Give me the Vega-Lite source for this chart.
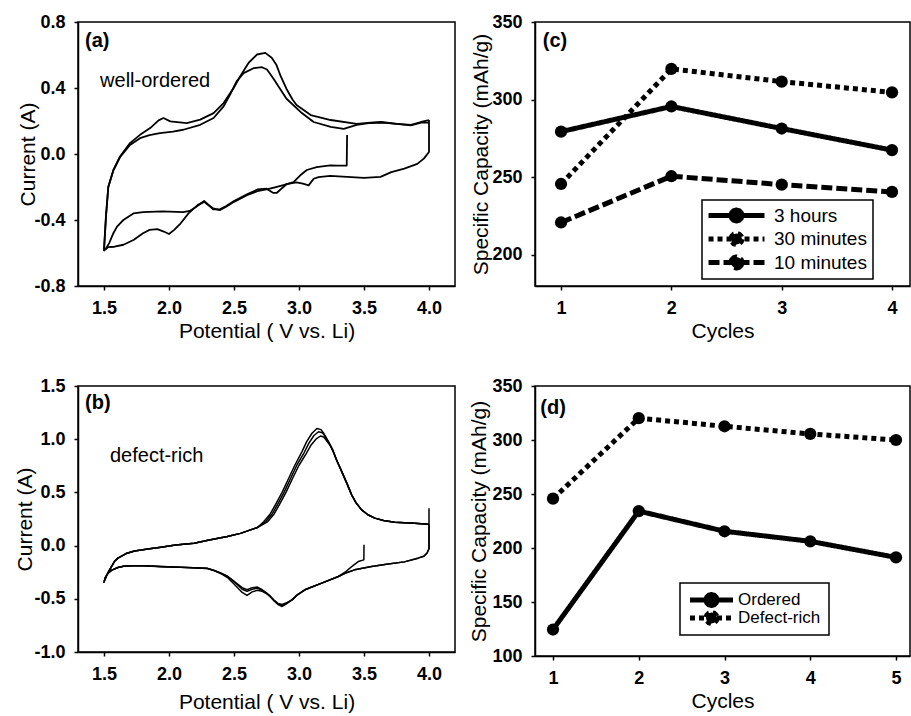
{
  "$schema": "https://vega.github.io/schema/vega-lite/v6.json",
  "padding": {"left": 14, "top": 12, "right": 0, "bottom": 0},
  "background": "white",
  "config": {
    "font": "Liberation Sans",
    "view": {"stroke": "black", "strokeWidth": 1.5},
    "axis": {"grid": false, "domainColor": "black", "domainWidth": 1.5, "tickColor": "black", "tickWidth": 1.5, "tickSize": 4,
      "labelColor": "black", "labelFont": "Liberation Sans", "labelFontSize": 18, "labelFontWeight": "bold", "labelPadding": 9,
      "labelFlush": false, "labelOverlap": false,
      "titleColor": "black", "titleFont": "Liberation Sans", "titleFontSize": 21, "titleFontWeight": "normal"},
    "axisX": {"titlePadding": 3},
    "axisY": {"titlePadding": -4}
  },
  "bounds": "flush",
  "columns": 2,
  "spacing": {"row": 100, "column": 80},
  "resolve": {"scale": {"strokeDash": "independent"}, "legend": {"strokeDash": "independent"}},
  "concat": [
        {
          "width": 377, "height": 264,
          "layer": [
            {
              "data": {"values": [
                {"c":1,"v":3.37,"a":0.115},{"c":1,"v":3.367,"a":-0.07},{"c":1,"v":3.30,"a":-0.07},{"c":1,"v":3.24,"a":-0.069},{"c":1,"v":3.136,"a":-0.08},{"c":1,"v":3.06,"a":-0.097},{"c":1,"v":3.01,"a":-0.129},{"c":1,"v":2.958,"a":-0.17},{"c":1,"v":2.88,"a":-0.188},{"c":1,"v":2.80,"a":-0.205},{"c":1,"v":2.75,"a":-0.215},{"c":1,"v":2.68,"a":-0.225},{"c":1,"v":2.60,"a":-0.25},{"c":1,"v":2.50,"a":-0.29},{"c":1,"v":2.44,"a":-0.32},{"c":1,"v":2.39,"a":-0.34},{"c":1,"v":2.34,"a":-0.33},{"c":1,"v":2.27,"a":-0.29},{"c":1,"v":2.22,"a":-0.31},{"c":1,"v":2.15,"a":-0.36},{"c":1,"v":2.09,"a":-0.42},{"c":1,"v":2.04,"a":-0.46},{"c":1,"v":2.00,"a":-0.485},{"c":1,"v":1.96,"a":-0.47},{"c":1,"v":1.91,"a":-0.455},{"c":1,"v":1.85,"a":-0.46},{"c":1,"v":1.80,"a":-0.48},{"c":1,"v":1.73,"a":-0.52},{"c":1,"v":1.65,"a":-0.55},{"c":1,"v":1.58,"a":-0.562},{"c":1,"v":1.53,"a":-0.565},{"c":1,"v":1.50,"a":-0.585},
                {"c":1,"v":1.515,"a":-0.38},{"c":1,"v":1.533,"a":-0.2},{"c":1,"v":1.572,"a":-0.097},{"c":1,"v":1.623,"a":-0.015},{"c":1,"v":1.70,"a":0.066},{"c":1,"v":1.777,"a":0.116},{"c":1,"v":1.855,"a":0.157},{"c":1,"v":1.92,"a":0.204},{"c":1,"v":1.957,"a":0.218},{"c":1,"v":2.01,"a":0.198},{"c":1,"v":2.137,"a":0.187},{"c":1,"v":2.24,"a":0.208},{"c":1,"v":2.343,"a":0.248},{"c":1,"v":2.42,"a":0.309},{"c":1,"v":2.497,"a":0.40},{"c":1,"v":2.548,"a":0.471},{"c":1,"v":2.613,"a":0.553},{"c":1,"v":2.677,"a":0.603},{"c":1,"v":2.741,"a":0.613},{"c":1,"v":2.79,"a":0.583},{"c":1,"v":2.827,"a":0.539},{"c":1,"v":2.86,"a":0.47},{"c":1,"v":2.904,"a":0.394},{"c":1,"v":2.95,"a":0.33},{"c":1,"v":2.981,"a":0.297},{"c":1,"v":3.09,"a":0.236},{"c":1,"v":3.244,"a":0.206},{"c":1,"v":3.444,"a":0.182},{"c":1,"v":3.55,"a":0.19},{"c":1,"v":3.63,"a":0.194},{"c":1,"v":3.753,"a":0.182},{"c":1,"v":3.861,"a":0.176},{"c":1,"v":3.938,"a":0.194},{"c":1,"v":4.0,"a":0.206},
                {"c":2,"v":4.0,"a":0.206},{"c":2,"v":4.0,"a":0.012},{"c":2,"v":3.96,"a":-0.028},{"c":2,"v":3.91,"a":-0.06},{"c":2,"v":3.81,"a":-0.089},{"c":2,"v":3.71,"a":-0.11},{"c":2,"v":3.627,"a":-0.139},{"c":2,"v":3.50,"a":-0.145},{"c":2,"v":3.37,"a":-0.139},{"c":2,"v":3.24,"a":-0.133},{"c":2,"v":3.15,"a":-0.14},{"c":2,"v":3.113,"a":-0.15},{"c":2,"v":3.074,"a":-0.19},{"c":2,"v":3.03,"a":-0.18},{"c":2,"v":2.98,"a":-0.172},{"c":2,"v":2.905,"a":-0.182},{"c":2,"v":2.83,"a":-0.235},{"c":2,"v":2.80,"a":-0.235},{"c":2,"v":2.75,"a":-0.21},{"c":2,"v":2.68,"a":-0.215},{"c":2,"v":2.60,"a":-0.245},{"c":2,"v":2.50,"a":-0.285},{"c":2,"v":2.44,"a":-0.315},{"c":2,"v":2.39,"a":-0.335},{"c":2,"v":2.34,"a":-0.335},{"c":2,"v":2.27,"a":-0.285},{"c":2,"v":2.21,"a":-0.32},{"c":2,"v":2.16,"a":-0.345},{"c":2,"v":2.11,"a":-0.352},{"c":2,"v":1.95,"a":-0.348},{"c":2,"v":1.80,"a":-0.352},{"c":2,"v":1.726,"a":-0.36},{"c":2,"v":1.649,"a":-0.40},{"c":2,"v":1.60,"a":-0.44},{"c":2,"v":1.572,"a":-0.48},{"c":2,"v":1.54,"a":-0.54},{"c":2,"v":1.515,"a":-0.573},{"c":2,"v":1.5,"a":-0.58},
                {"c":2,"v":1.515,"a":-0.38},{"c":2,"v":1.533,"a":-0.2},{"c":2,"v":1.572,"a":-0.1},{"c":2,"v":1.623,"a":-0.02},{"c":2,"v":1.70,"a":0.055},{"c":2,"v":1.777,"a":0.096},{"c":2,"v":1.85,"a":0.115},{"c":2,"v":1.93,"a":0.127},{"c":2,"v":2.03,"a":0.135},{"c":2,"v":2.11,"a":0.147},{"c":2,"v":2.24,"a":0.177},{"c":2,"v":2.343,"a":0.218},{"c":2,"v":2.42,"a":0.289},{"c":2,"v":2.47,"a":0.36},{"c":2,"v":2.52,"a":0.44},{"c":2,"v":2.574,"a":0.49},{"c":2,"v":2.65,"a":0.52},{"c":2,"v":2.715,"a":0.526},{"c":2,"v":2.754,"a":0.512},{"c":2,"v":2.804,"a":0.456},{"c":2,"v":2.85,"a":0.40},{"c":2,"v":2.904,"a":0.335},{"c":2,"v":3.012,"a":0.255},{"c":2,"v":3.113,"a":0.194},{"c":2,"v":3.244,"a":0.164},{"c":2,"v":3.344,"a":0.152},{"c":2,"v":3.444,"a":0.176},{"c":2,"v":3.55,"a":0.188},{"c":2,"v":3.65,"a":0.19},{"c":2,"v":3.75,"a":0.183},{"c":2,"v":3.86,"a":0.173},{"c":2,"v":3.94,"a":0.19},{"c":2,"v":4.0,"a":0.19}
              ]},
              "mark": {"type": "line", "color": "black", "strokeWidth": 1.8, "strokeJoin": "round"},
              "encoding": {
                "x": {"field": "v", "type": "quantitative", "scale": {"domain": [1.3, 4.2], "nice": false, "zero": false},
                  "axis": {"values": [1.5, 2, 2.5, 3, 3.5, 4], "format": ".1f", "title": "Potential ( V vs. Li)"}},
                "y": {"field": "a", "type": "quantitative", "scale": {"domain": [-0.8, 0.8], "nice": false, "zero": false},
                  "axis": {"values": [-0.8, -0.6, -0.4, -0.2, 0, 0.2, 0.4, 0.6, 0.8], "labelExpr": "replace(format(datum.value, '.1f'), '\u2212', '-')", "title": "Current (A)", "titlePadding": -5}},
                "detail": {"field": "c"},
                "order": {"value": null}
              }
            },
            {"data": {"values": [{}]}, "mark": {"type": "text", "text": "(a)", "fontSize": 20, "fontWeight": "bold", "align": "left", "baseline": "middle", "color": "black"},
             "encoding": {"x": {"datum": 1.354}, "y": {"datum": 0.682}}},
            {"data": {"values": [{}]}, "mark": {"type": "text", "text": "well-ordered", "fontSize": 20, "align": "left", "baseline": "alphabetic", "color": "black"},
             "encoding": {"x": {"datum": 1.47}, "y": {"datum": 0.406}}}
          ]
        },
        {
          "width": 375, "height": 264,
          "data": {"values": [
            {"s":"3 hours","cycle":1,"cap":279.4},{"s":"3 hours","cycle":2,"cap":295.6},{"s":"3 hours","cycle":3,"cap":281.4},{"s":"3 hours","cycle":4,"cap":267.5},
            {"s":"30 minutes","cycle":1,"cap":245.7},{"s":"30 minutes","cycle":2,"cap":319.8},{"s":"30 minutes","cycle":3,"cap":311.6},{"s":"30 minutes","cycle":4,"cap":304.7},
            {"s":"10 minutes","cycle":1,"cap":220.9},{"s":"10 minutes","cycle":2,"cap":250.7},{"s":"10 minutes","cycle":3,"cap":245.3},{"s":"10 minutes","cycle":4,"cap":240.6}
          ]},
          "layer": [
            {
              "mark": {"type": "line", "color": "black", "strokeWidth": 5},
              "encoding": {
                "x": {"field": "cycle", "type": "quantitative", "scale": {"domain": [0.764, 4.163], "nice": false, "zero": false},
                  "axis": {"values": [1, 2, 3, 4], "format": "d", "title": "Cycles"}},
                "y": {"field": "cap", "type": "quantitative", "scale": {"domain": [180, 350], "nice": false, "zero": false},
                  "axis": {"values": [200, 250, 300, 350], "format": "d", "title": "Specific Capacity (mAh/g)", "titlePadding": 0}},
                "strokeDash": {"field": "s", "type": "nominal",
                  "scale": {"domain": ["3 hours", "30 minutes", "10 minutes"], "range": [[1, 0], [5, 4], [11, 4]]},
                  "legend": {"orient": "none", "legendX": 167, "legendY": 178, "title": null, "strokeColor": "black", "padding": 6,
                    "symbolType": "M-1.38,0L7.23,0M3.77,0L3.656,0.425L3.345,0.736L2.92,0.85L2.495,0.736L2.184,0.425L2.07,0L2.184,-0.425L2.495,-0.736L2.92,-0.85L3.345,-0.736L3.656,-0.425Z", "symbolSize": 169,
                    "symbolStrokeWidth": 5, "symbolStrokeColor": "black", "symbolFillColor": "black",
                    "labelFont": "Liberation Sans", "labelFontSize": 19, "labelColor": "black", "labelOffset": 47, "rowPadding": 3.5,
                    "encode": {"symbols": {"update": {"fill": {"value": "black"}, "stroke": {"value": "black"}, "strokeJoin": {"value": "round"}}}, "legend": {"update": {"strokeWidth": {"value": 1.5}}}}}
                }
              }
            },
            {
              "mark": {"type": "point", "filled": true, "color": "black", "size": 150, "opacity": 1},
              "encoding": {"x": {"field": "cycle", "type": "quantitative"}, "y": {"field": "cap", "type": "quantitative"}}
            },
            {"data": {"values": [{}]}, "mark": {"type": "text", "text": "(c)", "fontSize": 20, "fontWeight": "bold", "align": "left", "baseline": "middle", "color": "black"},
             "encoding": {"x": {"datum": 0.835}, "y": {"datum": 337.8}}}
          ]
        },
        {
          "width": 377, "height": 266,
          "layer": [
            {
              "data": {"values": [
                {"c":1,"v":3.5,"a":0.007},{"c":1,"v":3.499,"a":-0.134},{"c":1,"v":3.456,"a":-0.15},{"c":1,"v":3.405,"a":-0.197},{"c":1,"v":3.354,"a":-0.25},{"c":1,"v":3.303,"a":-0.29},{"c":1,"v":3.175,"a":-0.353},{"c":1,"v":3.045,"a":-0.415},{"c":1,"v":2.99,"a":-0.46},{"c":1,"v":2.946,"a":-0.51},{"c":1,"v":2.90,"a":-0.55},{"c":1,"v":2.87,"a":-0.572},{"c":1,"v":2.84,"a":-0.555},{"c":1,"v":2.81,"a":-0.52},{"c":1,"v":2.78,"a":-0.48},{"c":1,"v":2.75,"a":-0.45},{"c":1,"v":2.717,"a":-0.43},{"c":1,"v":2.68,"a":-0.42},{"c":1,"v":2.64,"a":-0.435},{"c":1,"v":2.60,"a":-0.468},{"c":1,"v":2.563,"a":-0.44},{"c":1,"v":2.50,"a":-0.36},{"c":1,"v":2.45,"a":-0.3},{"c":1,"v":2.397,"a":-0.262},{"c":1,"v":2.35,"a":-0.237},{"c":1,"v":2.296,"a":-0.216},{"c":1,"v":2.143,"a":-0.207},{"c":1,"v":1.938,"a":-0.198},{"c":1,"v":1.80,"a":-0.19},{"c":1,"v":1.709,"a":-0.19},{"c":1,"v":1.65,"a":-0.195},{"c":1,"v":1.607,"a":-0.206},{"c":1,"v":1.56,"a":-0.23},{"c":1,"v":1.53,"a":-0.26},{"c":1,"v":1.51,"a":-0.3},{"c":1,"v":1.5,"a":-0.343},
                {"c":1,"v":1.52,"a":-0.28},{"c":1,"v":1.543,"a":-0.228},{"c":1,"v":1.58,"a":-0.15},{"c":1,"v":1.607,"a":-0.118},{"c":1,"v":1.67,"a":-0.075},{"c":1,"v":1.735,"a":-0.05},{"c":1,"v":1.85,"a":-0.03},{"c":1,"v":1.938,"a":-0.015},{"c":1,"v":2.05,"a":0.005},{"c":1,"v":2.194,"a":0.023},{"c":1,"v":2.3,"a":0.05},{"c":1,"v":2.449,"a":0.085},{"c":1,"v":2.55,"a":0.115},{"c":1,"v":2.627,"a":0.148},{"c":1,"v":2.68,"a":0.17},
                {"c":1,"v":2.73,"a":0.226},{"c":1,"v":2.78,"a":0.30},{"c":1,"v":2.818,"a":0.383},{"c":1,"v":2.87,"a":0.50},{"c":1,"v":2.921,"a":0.633},{"c":1,"v":2.97,"a":0.76},{"c":1,"v":3.023,"a":0.883},{"c":1,"v":3.06,"a":0.98},{"c":1,"v":3.10,"a":1.056},{"c":1,"v":3.138,"a":1.10},{"c":1,"v":3.17,"a":1.09},{"c":1,"v":3.189,"a":1.056},{"c":1,"v":3.22,"a":0.99},{"c":1,"v":3.252,"a":0.915},{"c":1,"v":3.29,"a":0.80},
                {"c":1,"v":3.329,"a":0.695},{"c":1,"v":3.37,"a":0.58},{"c":1,"v":3.405,"a":0.477},{"c":1,"v":3.44,"a":0.40},{"c":1,"v":3.482,"a":0.336},{"c":1,"v":3.53,"a":0.29},{"c":1,"v":3.583,"a":0.258},{"c":1,"v":3.65,"a":0.235},{"c":1,"v":3.736,"a":0.22},{"c":1,"v":3.89,"a":0.211},{"c":1,"v":3.992,"a":0.201},{"c":1,"v":4.0,"a":0.20},
                {"c":2,"v":4.0,"a":0.20},{"c":2,"v":4.0,"a":-0.03},{"c":2,"v":3.985,"a":-0.07},{"c":2,"v":3.96,"a":-0.1},{"c":2,"v":3.915,"a":-0.118},{"c":2,"v":3.81,"a":-0.153},{"c":2,"v":3.686,"a":-0.174},{"c":2,"v":3.558,"a":-0.197},{"c":2,"v":3.428,"a":-0.228},{"c":2,"v":3.354,"a":-0.26},{"c":2,"v":3.303,"a":-0.29},{"c":2,"v":3.175,"a":-0.353},{"c":2,"v":3.045,"a":-0.415},{"c":2,"v":2.99,"a":-0.46},{"c":2,"v":2.946,"a":-0.51},{"c":2,"v":2.90,"a":-0.545},{"c":2,"v":2.87,"a":-0.562},{"c":2,"v":2.84,"a":-0.55},{"c":2,"v":2.81,"a":-0.52},{"c":2,"v":2.78,"a":-0.48},{"c":2,"v":2.75,"a":-0.45},{"c":2,"v":2.717,"a":-0.42},{"c":2,"v":2.68,"a":-0.40},{"c":2,"v":2.64,"a":-0.41},{"c":2,"v":2.60,"a":-0.43},{"c":2,"v":2.563,"a":-0.41},{"c":2,"v":2.50,"a":-0.337},{"c":2,"v":2.45,"a":-0.29},{"c":2,"v":2.397,"a":-0.259},{"c":2,"v":2.35,"a":-0.235},{"c":2,"v":2.296,"a":-0.215},{"c":2,"v":2.143,"a":-0.206},{"c":2,"v":1.938,"a":-0.197},{"c":2,"v":1.80,"a":-0.19},{"c":2,"v":1.709,"a":-0.19},{"c":2,"v":1.65,"a":-0.195},{"c":2,"v":1.607,"a":-0.206},{"c":2,"v":1.56,"a":-0.23},{"c":2,"v":1.53,"a":-0.26},{"c":2,"v":1.51,"a":-0.3},{"c":2,"v":1.5,"a":-0.343},
                {"c":2,"v":1.52,"a":-0.28},{"c":2,"v":1.543,"a":-0.228},{"c":2,"v":1.58,"a":-0.15},{"c":2,"v":1.607,"a":-0.118},{"c":2,"v":1.67,"a":-0.075},{"c":2,"v":1.735,"a":-0.05},{"c":2,"v":1.85,"a":-0.03},{"c":2,"v":1.938,"a":-0.015},{"c":2,"v":2.05,"a":0.005},{"c":2,"v":2.194,"a":0.023},{"c":2,"v":2.3,"a":0.05},{"c":2,"v":2.449,"a":0.085},{"c":2,"v":2.55,"a":0.115},{"c":2,"v":2.627,"a":0.148},{"c":2,"v":2.68,"a":0.17},
                {"c":2,"v":2.745,"a":0.226},{"c":2,"v":2.795,"a":0.30},{"c":2,"v":2.833,"a":0.383},{"c":2,"v":2.885,"a":0.50},{"c":2,"v":2.936,"a":0.633},{"c":2,"v":2.985,"a":0.76},{"c":2,"v":3.038,"a":0.87},{"c":2,"v":3.075,"a":0.96},{"c":2,"v":3.115,"a":1.035},{"c":2,"v":3.15,"a":1.07},{"c":2,"v":3.18,"a":1.06},{"c":2,"v":3.20,"a":1.03},{"c":2,"v":3.23,"a":0.97},{"c":2,"v":3.26,"a":0.9},{"c":2,"v":3.29,"a":0.80},
                {"c":2,"v":3.329,"a":0.695},{"c":2,"v":3.37,"a":0.58},{"c":2,"v":3.405,"a":0.477},{"c":2,"v":3.44,"a":0.40},{"c":2,"v":3.482,"a":0.336},{"c":2,"v":3.53,"a":0.29},{"c":2,"v":3.583,"a":0.258},{"c":2,"v":3.65,"a":0.235},{"c":2,"v":3.736,"a":0.22},{"c":2,"v":3.89,"a":0.211},{"c":2,"v":3.992,"a":0.201},{"c":2,"v":4.0,"a":0.20},
                {"c":3,"v":4.0,"a":0.20},{"c":3,"v":4.0,"a":-0.03},{"c":3,"v":3.985,"a":-0.07},{"c":3,"v":3.96,"a":-0.1},{"c":3,"v":3.915,"a":-0.118},{"c":3,"v":3.81,"a":-0.153},{"c":3,"v":3.686,"a":-0.174},{"c":3,"v":3.558,"a":-0.197},{"c":3,"v":3.428,"a":-0.228},{"c":3,"v":3.354,"a":-0.26},{"c":3,"v":3.303,"a":-0.29},{"c":3,"v":3.175,"a":-0.353},{"c":3,"v":3.045,"a":-0.415},{"c":3,"v":2.99,"a":-0.46},{"c":3,"v":2.946,"a":-0.51},{"c":3,"v":2.90,"a":-0.54},{"c":3,"v":2.87,"a":-0.553},{"c":3,"v":2.84,"a":-0.545},{"c":3,"v":2.81,"a":-0.515},{"c":3,"v":2.78,"a":-0.475},{"c":3,"v":2.75,"a":-0.445},{"c":3,"v":2.717,"a":-0.415},{"c":3,"v":2.68,"a":-0.39},{"c":3,"v":2.64,"a":-0.395},{"c":3,"v":2.60,"a":-0.415},{"c":3,"v":2.563,"a":-0.395},{"c":3,"v":2.50,"a":-0.335},{"c":3,"v":2.45,"a":-0.288},{"c":3,"v":2.397,"a":-0.258},{"c":3,"v":2.35,"a":-0.234},{"c":3,"v":2.296,"a":-0.214},{"c":3,"v":2.143,"a":-0.205},{"c":3,"v":1.938,"a":-0.196},{"c":3,"v":1.80,"a":-0.19},{"c":3,"v":1.709,"a":-0.19},{"c":3,"v":1.65,"a":-0.195},{"c":3,"v":1.607,"a":-0.206},{"c":3,"v":1.56,"a":-0.23},{"c":3,"v":1.53,"a":-0.26},{"c":3,"v":1.51,"a":-0.3},{"c":3,"v":1.5,"a":-0.343},
                {"c":3,"v":1.52,"a":-0.28},{"c":3,"v":1.543,"a":-0.228},{"c":3,"v":1.58,"a":-0.15},{"c":3,"v":1.607,"a":-0.118},{"c":3,"v":1.67,"a":-0.075},{"c":3,"v":1.735,"a":-0.05},{"c":3,"v":1.85,"a":-0.03},{"c":3,"v":1.938,"a":-0.015},{"c":3,"v":2.05,"a":0.005},{"c":3,"v":2.194,"a":0.023},{"c":3,"v":2.3,"a":0.05},{"c":3,"v":2.449,"a":0.085},{"c":3,"v":2.55,"a":0.115},{"c":3,"v":2.627,"a":0.148},{"c":3,"v":2.68,"a":0.17},
                {"c":3,"v":2.76,"a":0.226},{"c":3,"v":2.81,"a":0.30},{"c":3,"v":2.848,"a":0.383},{"c":3,"v":2.90,"a":0.50},{"c":3,"v":2.951,"a":0.633},{"c":3,"v":3.0,"a":0.755},{"c":3,"v":3.053,"a":0.86},{"c":3,"v":3.09,"a":0.94},{"c":3,"v":3.13,"a":1.0},{"c":3,"v":3.165,"a":1.03},{"c":3,"v":3.19,"a":1.02},{"c":3,"v":3.21,"a":0.99},{"c":3,"v":3.24,"a":0.94},{"c":3,"v":3.265,"a":0.88},{"c":3,"v":3.295,"a":0.79},
                {"c":3,"v":3.329,"a":0.695},{"c":3,"v":3.37,"a":0.58},{"c":3,"v":3.405,"a":0.477},{"c":3,"v":3.44,"a":0.40},{"c":3,"v":3.482,"a":0.336},{"c":3,"v":3.53,"a":0.29},{"c":3,"v":3.583,"a":0.258},{"c":3,"v":3.65,"a":0.235},{"c":3,"v":3.736,"a":0.22},{"c":3,"v":3.89,"a":0.211},{"c":3,"v":3.992,"a":0.201},{"c":3,"v":4.0,"a":0.20},{"c":3,"v":4.0,"a":0.35}
              ]},
              "mark": {"type": "line", "color": "black", "strokeWidth": 1.5, "strokeJoin": "round"},
              "encoding": {
                "x": {"field": "v", "type": "quantitative", "scale": {"domain": [1.3, 4.2], "nice": false, "zero": false},
                  "axis": {"values": [1.5, 2, 2.5, 3, 3.5, 4], "format": ".1f", "title": "Potential ( V vs. Li)", "titlePadding": 8}},
                "y": {"field": "a", "type": "quantitative", "scale": {"domain": [-1, 1.5], "nice": false, "zero": false},
                  "axis": {"values": [-1, -0.5, 0, 0.5, 1, 1.5], "labelExpr": "replace(format(datum.value, '.1f'), '\u2212', '-')", "title": "Current (A)", "titlePadding": -2}},
                "detail": {"field": "c"},
                "order": {"value": null}
              }
            },
            {"data": {"values": [{}]}, "mark": {"type": "text", "text": "(b)", "fontSize": 20, "fontWeight": "bold", "align": "left", "baseline": "middle", "color": "black"},
             "encoding": {"x": {"datum": 1.354}, "y": {"datum": 1.34}}},
            {"data": {"values": [{}]}, "mark": {"type": "text", "text": "defect-rich", "fontSize": 20, "align": "left", "baseline": "alphabetic", "color": "black"},
             "encoding": {"x": {"datum": 1.546}, "y": {"datum": 0.789}}}
          ]
        },
        {
          "width": 375, "height": 270,
          "data": {"values": [
            {"s":"Ordered","cycle":1,"cap":124.5},{"s":"Ordered","cycle":2,"cap":234.2},{"s":"Ordered","cycle":3,"cap":215.5},{"s":"Ordered","cycle":4,"cap":206.2},{"s":"Ordered","cycle":5,"cap":191.3},
            {"s":"Defect-rich","cycle":1,"cap":245.7},{"s":"Defect-rich","cycle":2,"cap":320.2},{"s":"Defect-rich","cycle":3,"cap":312.7},{"s":"Defect-rich","cycle":4,"cap":305.6},{"s":"Defect-rich","cycle":5,"cap":300}
          ]},
          "layer": [
            {
              "mark": {"type": "line", "color": "black", "strokeWidth": 5},
              "encoding": {
                "x": {"field": "cycle", "type": "quantitative", "scale": {"domain": [0.79, 5.163], "nice": false, "zero": false},
                  "axis": {"values": [1, 2, 3, 4, 5], "format": "d", "title": "Cycles", "titlePadding": 3}},
                "y": {"field": "cap", "type": "quantitative", "scale": {"domain": [100, 350], "nice": false, "zero": false},
                  "axis": {"values": [100, 150, 200, 250, 300, 350], "format": "d", "title": "Specific Capacity (mAh/g)", "titlePadding": 2}},
                "strokeDash": {"field": "s", "type": "nominal",
                  "scale": {"domain": ["Ordered", "Defect-rich"], "range": [[1, 0], [5, 4]]},
                  "legend": {"orient": "none", "legendX": 145, "legendY": 197, "title": null, "strokeColor": "black", "padding": 8,
                    "symbolType": "M-1.08,0L5.54,0M3.08,0L2.966,0.425L2.655,0.736L2.23,0.85L1.805,0.736L1.494,0.425L1.38,0L1.494,-0.425L1.805,-0.736L2.23,-0.85L2.655,-0.736L2.966,-0.425Z", "symbolSize": 169,
                    "symbolStrokeWidth": 5, "symbolStrokeColor": "black", "symbolFillColor": "black",
                    "labelFont": "Liberation Sans", "labelFontSize": 17, "labelColor": "black", "labelOffset": 32, "rowPadding": 0,
                    "encode": {"symbols": {"update": {"fill": {"value": "black"}, "stroke": {"value": "black"}, "strokeJoin": {"value": "round"}}}, "legend": {"update": {"strokeWidth": {"value": 1.5}}}}}
                }
              }
            },
            {
              "mark": {"type": "point", "filled": true, "color": "black", "size": 150, "opacity": 1},
              "encoding": {"x": {"field": "cycle", "type": "quantitative"}, "y": {"field": "cap", "type": "quantitative"}}
            },
            {"data": {"values": [{}]}, "mark": {"type": "text", "text": "(d)", "fontSize": 20, "fontWeight": "bold", "align": "left", "baseline": "middle", "color": "black"},
             "encoding": {"x": {"datum": 0.852}, "y": {"datum": 329.6}}}
          ]
        }
  ]
}
